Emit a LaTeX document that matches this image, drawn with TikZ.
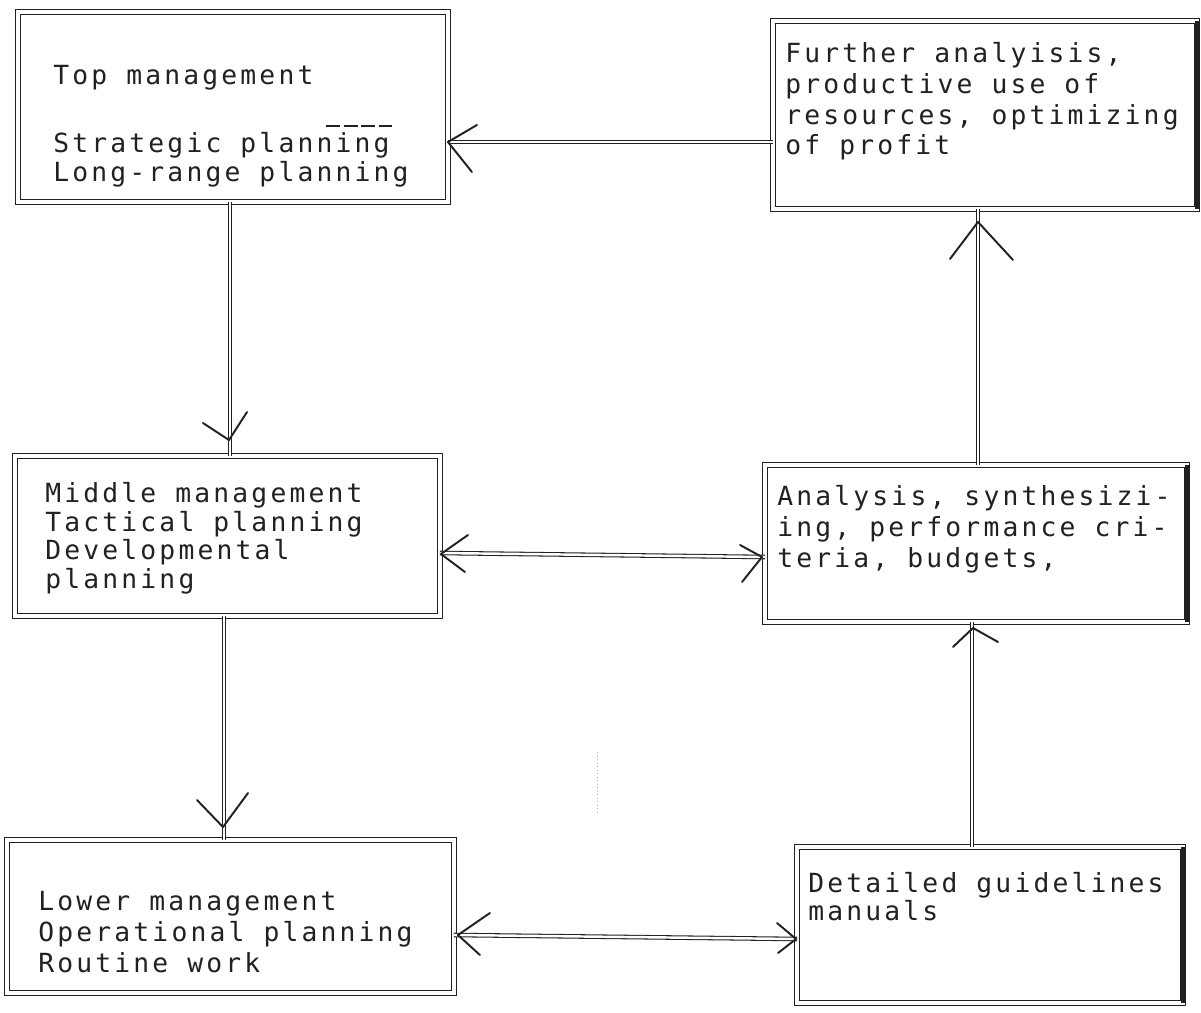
\documentclass[tikz,border=0pt]{standalone}
\usepackage{fontspec}
\usetikzlibrary{calc}
\newfontfamily\dotfont[LetterSpace=12]{DejaVu Sans Mono}
\definecolor{ink}{gray}{0.13}

\begin{document}
\begin{tikzpicture}[x=0.02cm, y=-0.02cm,
  box/.style={draw=ink, line width=0.7pt, double=white, double distance=1.8pt,
              inner sep=0pt, outer sep=0pt},
  % multi-line texts are placed by the baseline of their last line
  txt/.style={anchor=base west, align=left, inner sep=0pt, text=ink,
              font=\dotfont\fontsize{15pt}{#1}\selectfont},
  link/.style={draw=ink, line width=0.6pt, double=white, double distance=1.4pt},
  head/.style={draw=ink, line width=1.1pt, line cap=round, line join=round},
  heavy/.style={draw=ink, line width=2pt}]

% page
\fill[white] (0,0) rectangle (1201,1013);
\useasboundingbox (0,0) rectangle (1201,1013);

% boxes
\node[box, minimum width=8.6cm,  minimum height=3.8cm]  (top)      at (233,107)   {};
\node[box, minimum width=8.48cm, minimum height=3.76cm] (further)  at (985,115)   {};
\node[box, minimum width=8.5cm,  minimum height=3.2cm]  (middle)   at (227.5,536) {};
\node[box, minimum width=8.44cm, minimum height=3.14cm] (analysis) at (976,543.5) {};
\node[box, minimum width=8.94cm, minimum height=3.06cm] (lower)    at (230.5,916.5) {};
\node[box, minimum width=7.72cm, minimum height=3.12cm] (guide)    at (990,925)   {};

% darker right edges of the right-hand column
\draw[heavy] (further.north east) -- (further.south east);
\draw[heavy] (analysis.north east) -- (analysis.south east);
\draw[heavy] (guide.north east) -- (guide.south east);

% texts
\node[txt=17.07pt] (t1) at (53,182)
  {Top management\\[21.6pt]Strategic planning\\Long-range planning};
\draw[ink, line width=0.6pt, dash pattern=on 8pt off 2pt] (326,126) -- (392,126);
\node[txt=17.5pt] (t2) at (785,155)
  {Further analyisis,\\productive use of\\resources, optimizing\\of profit};
\node[txt=16.2pt] (t3) at (45,588)
  {Middle management\\Tactical planning\\Developmental\\planning};
\node[txt=17.9pt] (t4) at (777,568)
  {Analysis, synthesizi-\\ing, performance cri-\\teria, budgets,};
\node[txt=17.6pt] (t5) at (38,972)
  {Lower management\\Operational planning\\Routine work};
\node[txt=15.4pt] (t6) at (808,920)
  {Detailed guidelines\\manuals};

% connectors
\draw[link] (further.west |- 0,142) -- (top.east |- 0,142);
\coordinate (h1) at (top.east |- 0,142);
\draw[head] ($(h1)+(29,-17)$) -- (h1) -- ($(h1)+(24,30)$);

\draw[link] (top.south -| 230,0) -- (middle.north -| 230,0);
\coordinate (h2) at ($(middle.north -| 229,0)+(0,-16)$);
\draw[head] ($(h2)+(-26,-17)$) -- (h2) -- ($(h2)+(18,-28)$);

\draw[link] (middle.south -| 224,0) -- (lower.north -| 224,0);
\coordinate (h3) at ($(lower.north -| 223,0)+(0,-13)$);
\draw[head] ($(h3)+(-26,-27)$) -- (h3) -- ($(h3)+(25,-34)$);

\draw[link] (middle.east |- 0,553) -- (analysis.west |- 0,557);
\coordinate (h4) at ($(middle.east |- 0,554)+(1,0)$);
\draw[head] ($(h4)+(27,-19)$) -- (h4) -- ($(h4)+(24,18)$);
\coordinate (h5) at ($(analysis.west |- 0,557)+(-3,0)$);
\draw[head] ($(h5)+(-22,-12)$) -- (h5) -- ($(h5)+(-20,25)$);

\draw[link] (lower.east |- 0,935) -- (guide.west |- 0,939);
\coordinate (h6) at ($(lower.east |- 0,935)+(4,0)$);
\draw[head] ($(h6)+(32,-22)$) -- (h6) -- ($(h6)+(22,20)$);
\coordinate (h7) at ($(guide.west |- 0,939)+(-1,0)$);
\draw[head] ($(h7)+(-19,-16)$) -- (h7) -- ($(h7)+(-18,14)$);

\draw[link] (guide.north -| 972,0) -- (analysis.south -| 972,0);
\coordinate (h8) at ($(analysis.south -| 973,0)+(0,6)$);
\draw[head] ($(h8)+(-20,19)$) -- (h8) -- ($(h8)+(25,14)$);

\draw[link] (analysis.north -| 978,0) -- (further.south -| 978,0);
\coordinate (h9) at ($(further.south -| 978,0)+(0,13)$);
\draw[head] ($(h9)+(-28,37)$) -- (h9) -- ($(h9)+(35,38)$);

% faint dotted mark between the columns
\draw[gray!60, line width=0.5pt, dash pattern=on 0.6pt off 1.4pt] (597,752) -- (597,815);
\end{tikzpicture}
\end{document}
